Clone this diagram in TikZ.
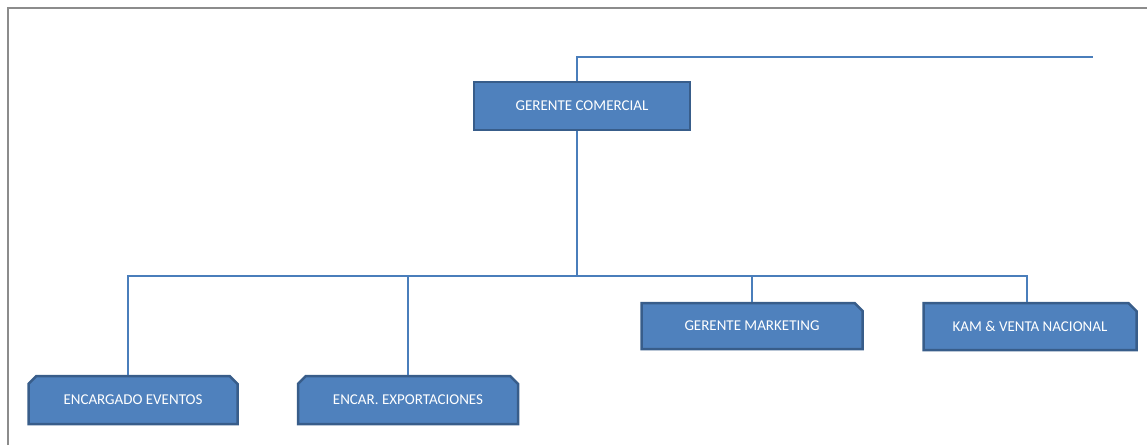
\documentclass[tikz,border=0pt]{standalone}
\usepackage{fontspec}
\newfontfamily\boxfont{Carlito}
\usetikzlibrary{shapes.misc}
\definecolor{boxfill}{HTML}{4F81BD}
\definecolor{boxedge}{HTML}{385D8A}
\definecolor{linkblue}{HTML}{4A7EBB}
\definecolor{framegray}{HTML}{8C8C8C}
\begin{document}
\begin{tikzpicture}[x=1pt,y=-1pt,
  unit/.style={draw=boxedge, line width=2.5pt, fill=boxfill, text=white,
    font=\boxfont\fontsize{15}{18}\selectfont, inner sep=0pt},
  plainbox/.style={unit, rectangle},
  twosnip/.style={unit, chamfered rectangle, chamfered rectangle xsep=7pt,
    chamfered rectangle corners={north west,north east}},
  onesnip/.style={unit, chamfered rectangle, chamfered rectangle xsep=7pt,
    chamfered rectangle corners={north east}},
  link/.style={draw=linkblue, line width=1.6pt}]
\useasboundingbox (0,0) rectangle (1147,445);
% outer frame
\draw[framegray, line width=1.6pt] (8,445) -- (8,8) -- (1147,8);
% boxes
\node[plainbox, minimum width=216pt, minimum height=48pt] (gc) at (582,106) {GERENTE COMERCIAL};
\node[twosnip, minimum width=209pt, minimum height=48pt] (ev) at (133,400) {ENCARGADO EVENTOS};
\node[twosnip, minimum width=220pt, minimum height=48pt] (ex) at (408,400) {ENCAR. EXPORTACIONES};
\node[onesnip, minimum width=221pt, minimum height=46pt] (mk) at (752,326) {GERENTE MARKETING};
\node[onesnip, minimum width=213pt, minimum height=47pt] (kam) at (1030,326.5) {KAM \& VENTA NACIONAL};
% connectors
\coordinate (stem) at (577,0);
\coordinate (topend) at (1093,57);
\coordinate (bus) at (577,276);
\draw[link] (gc.north -| stem) |- (topend);
\draw[link] (gc.south -| stem) -- (bus);
\draw[link] (bus) -| ([xshift=-5pt]ev.north);
\draw[link] (bus) -| (ex.north);
\draw[link] (bus) -| (mk.north);
\draw[link] (bus) -| ([xshift=-3pt]kam.north);
\end{tikzpicture}
\end{document}
